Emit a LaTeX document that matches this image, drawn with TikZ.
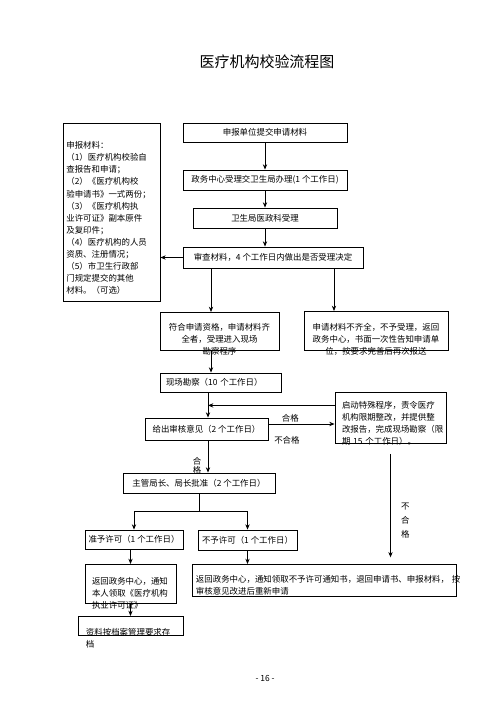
\documentclass[tikz,border=0pt]{standalone}
\usepackage{fontspec}
\setmainfont{Noto Sans CJK SC}
\usetikzlibrary{arrows.meta,positioning}
\newcommand{\boxfont}{\fontsize{7.2}{10.3}\selectfont}

\begin{document}
\begin{tikzpicture}[
    x=0.03cm, y=-0.03cm,
    box/.style={rectangle, draw, line width=0.7pt, inner sep=0pt, minimum height=0.6cm, align=center, font=\boxfont},
    tbox/.style={box, anchor=north, minimum height=0pt},
    arrow/.style={->, >={Stealth[length=1.6mm, width=1.3mm]}, line width=0.7pt},
    lbl/.style={font=\boxfont, inner sep=1pt}
]
    \useasboundingbox (0,0) rectangle (500,708);

    \node[font=\fontsize{12.8}{15}\selectfont] (title) at (267,62) {医疗机构校验流程图};

    \node[box, minimum width=4.92cm, minimum height=0.57cm] (sqcl) at (265,132.5) {申报单位提交申请材料};
    \node[box, minimum width=4.92cm] (zwzx) at (265,180) {政务中心受理交卫生局办理(1 个工作日)};
    \node[box, minimum width=4.32cm] (wsj) at (265,218) {卫生局医政科受理};
    \node[box, minimum width=5.4cm, minimum height=0.63cm] (sccl) at (273,257.5) {审查材料，4 个工作日内做出是否受理决定};
    \node[tbox, align=left, text width=2.71cm, inner xsep=1mm, text height=7.6mm, text depth=45.8mm] (sbcl) at (111.5,123)
        {申报材料：\\（1）医疗机构校验自\\查报告和申请；\\（2）《医疗机构校\\验申请书》一式两份；\\（3）《医疗机构执\\业许可证》副本原件\\及复印件；\\（4）医疗机构的人员\\资质、注册情况；\\（5）市卫生行政部\\门规定提交的其他\\材料。（可选）};
    \node[tbox, text width=3.37cm, inner xsep=1mm, text height=5.5mm, text depth=5.9mm] (fhzg) at (219.5,312)
        {符合申请资格，申请材料齐\\全者，受理进入现场\\勘察程序};
    \node[tbox, text width=4.12cm, inner xsep=1mm, text height=5.8mm, text depth=5.9mm] (bysl) at (376,311)
        {申请材料不齐全，不予受理，返回\\政务中心，书面一次性告知申请单\\位，按要求完善后再次报送};
    \node[box, align=left, text width=3.27cm, inner xsep=1.8mm, minimum height=0.57cm] (xckc) at (220.5,382.5) {现场勘察（10 个工作日）};
    \node[box, minimum width=3.69cm, minimum height=0.66cm] (shyj) at (206.5,429) {给出审核意见（2 个工作日）};
    \node[tbox, align=left, text width=2.91cm, inner xsep=2.1mm, text height=4.9mm, text depth=10.4mm] (tscx) at (390.5,392)
        {启动特殊程序，责令医疗\\机构限期整改，并提供整\\改报告，完成现场勘察（限\\期 15 个工作日）。};
    \node[box, minimum width=4.56cm] (jzpz) at (199,483) {主管局长、局长批准（2 个工作日）};
    \node[box, minimum width=2.94cm, minimum height=0.57cm] (zyxk) at (134,539.5) {准予许可（1 个工作日）};
    \node[box, minimum width=2.97cm] (byxk) at (247.5,540) {不予许可（1 个工作日）};
    \node[tbox, align=left, text width=2.31cm, inner xsep=2.1mm, text height=6.1mm, text depth=5.6mm] (fhzx) at (130.5,564)
        {返回政务中心，通知\\本人领取《医疗机构\\执业许可证》};
    \node[tbox, align=left, text width=2.67cm, inner xsep=2.4mm, text height=5.8mm, text depth=-1.9mm] (zlcd) at (130.5,616)
        {资料按档案管理要求存\\档};
    \node[tbox, align=left, text width=7.68cm, inner xsep=1.2mm, text height=5.4mm, text depth=4.2mm] (thsq) at (324,564)
        {返回政务中心，通知领取不予许可通知书，退回申请书、申报材料，~按\\审核意见改进后重新申请};
    \node[font=\boxfont] (ym) at (265,678) {- 16 -};

    \coordinate (ax) at (211,0);
    \coordinate (ay) at (208,0);
    \coordinate (bx) at (334,0);
    \coordinate (fk) at (199,511);

    \draw[arrow] (sqcl) -- (zwzx);
    \draw[arrow] (zwzx) -- (wsj);
    \draw[arrow] (wsj.south) -- (wsj.south |- sccl.north);
    \draw[arrow] (sccl.west) -- (sccl.west -| sbcl.east);
    \draw[arrow] (sccl.south -| ax) -- (fhzg.north -| ax);
    \draw[arrow] (sccl.south -| bx) -- (bysl.north -| bx);
    \draw[arrow] (fhzg.south -| ax) -- (xckc.north -| ax);
    \draw[arrow] (xckc.south -| ay) -- (shyj.north -| ay);
    \draw[arrow] ([yshift=3.75mm]tscx.west) -- ([yshift=3.75mm]tscx.west -| ay);
    \draw[arrow] ([yshift=1.5mm]shyj.east) -- node[lbl, above, pos=0.33]{合格} node[lbl, below=3.2mm, pos=0.28]{不合格} ([yshift=1.5mm]shyj.east -| tscx.west);
    \draw[arrow] (shyj.south -| ay) -- node[lbl, left=1.5mm, pos=0.8, align=center, font=\fontsize{7.2}{7.7}\selectfont]{合\\格} (jzpz.north -| ay);
    \draw (jzpz.south) -- (fk);
    \draw[arrow] (fk) -| (zyxk.north);
    \draw[arrow] (fk) -| (byxk.north);
    \draw[arrow] (fhzx.north |- zyxk.south) -- (fhzx.north);
    \draw[arrow] (fhzx) -- (zlcd);
    \draw[arrow] (byxk.south) -- (byxk.south |- thsq.north);
    \draw[arrow, shorten <=3mm, shorten >=2mm] (tscx.south) -- node[lbl, right=2.7mm, pos=0.64, align=center, font=\fontsize{7.2}{11.9}\selectfont]{不\\合\\格} (tscx.south |- thsq.north);
\end{tikzpicture}
\end{document}
